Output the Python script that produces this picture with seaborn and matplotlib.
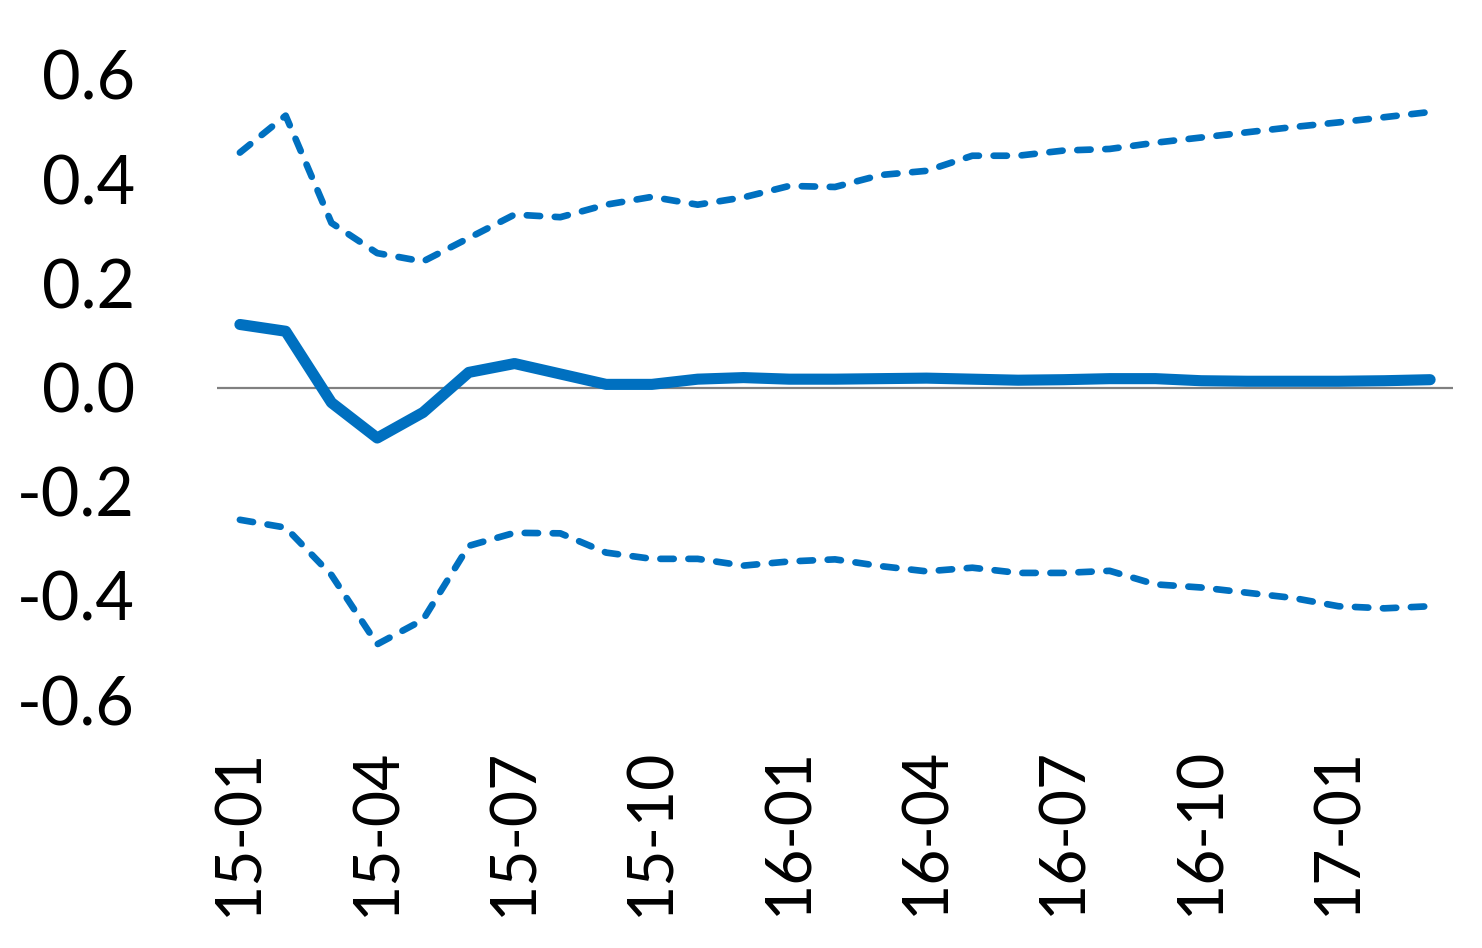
import matplotlib
matplotlib.use("Agg")
import matplotlib.pyplot as plt
import numpy as np
import pandas as pd
import seaborn as sns

# ---- data ----
months = ["15-01", "15-02", "15-03", "15-04", "15-05", "15-06", "15-07", "15-08", "15-09",
          "15-10", "15-11", "15-12", "16-01", "16-02", "16-03", "16-04", "16-05", "16-06",
          "16-07", "16-08", "16-09", "16-10", "16-11", "16-12", "17-01", "17-02", "17-03"]
estimate = [0.121, 0.108, -0.029, -0.097, -0.048, 0.029, 0.046, 0.026, 0.006,
            0.006, 0.016, 0.019, 0.016, 0.016, 0.017, 0.018, 0.016, 0.014,
            0.015, 0.017, 0.017, 0.013, 0.012, 0.012, 0.012, 0.013, 0.015]
upper = [0.451, 0.522, 0.316, 0.258, 0.242, 0.287, 0.332, 0.327, 0.351,
         0.366, 0.351, 0.365, 0.387, 0.385, 0.408, 0.416, 0.445, 0.445,
         0.455, 0.458, 0.470, 0.480, 0.490, 0.500, 0.509, 0.519, 0.529]
lower = [-0.254, -0.269, -0.360, -0.493, -0.446, -0.304, -0.279, -0.280, -0.317,
         -0.329, -0.329, -0.342, -0.334, -0.330, -0.343, -0.353, -0.346, -0.356,
         -0.356, -0.352, -0.378, -0.384, -0.394, -0.404, -0.420, -0.424, -0.420]
x_tick_labels = ["15-01", "15-04", "15-07", "15-10", "16-01", "16-04", "16-07", "16-10", "17-01"]
y_ticks = [-0.6, -0.4, -0.2, 0.0, 0.2, 0.4, 0.6]
y_tick_labels = ["-0.6", "-0.4", "-0.2", "0.0", "0.2", "0.4", "0.6"]

df = pd.DataFrame({"month": months, "pos": np.arange(len(months)),
                   "estimate": estimate, "upper": upper, "lower": lower})

BLUE = "#0070C0"

sns.set_theme(style="white")
plt.rcParams["font.family"] = ["Lato", "DejaVu Sans"]

W, H = 1482, 948
fig = plt.figure(figsize=(W / 100, H / 100), dpi=100)
ax = fig.add_axes([217 / W, 1 - 700 / H, (1453 - 217) / W, (700 - 75) / H])

ax.axhline(0, color="#808080", lw=1.6, zorder=1)

for col in ["upper", "lower"]:
    sns.lineplot(data=df, x="pos", y=col, color=BLUE, lw=4.8, ax=ax,
                 linestyle=(0, (2.0, 2.2)), dash_capstyle="round",
                 dash_joinstyle="round", zorder=3)
sns.lineplot(data=df, x="pos", y="estimate", color=BLUE, lw=8, ax=ax,
             solid_capstyle="round", solid_joinstyle="round", zorder=4)

ax.set_xlim(-0.5, len(months) - 0.5)
ax.set_ylim(-0.6, 0.6)
ax.set_xticks([months.index(m) for m in x_tick_labels])
ax.set_xticklabels(x_tick_labels, rotation=90, fontsize=45, color="black")
ax.set_yticks(y_ticks)
ax.set_yticklabels(y_tick_labels, fontsize=48, color="black")
ax.tick_params(axis="x", length=0, pad=34)
ax.tick_params(axis="y", length=0, pad=59)
ax.set_xlabel("")
ax.set_ylabel("")
for s in ax.spines.values():
    s.set_visible(False)
ax.grid(False)

fig.savefig("out.png", dpi=100)
